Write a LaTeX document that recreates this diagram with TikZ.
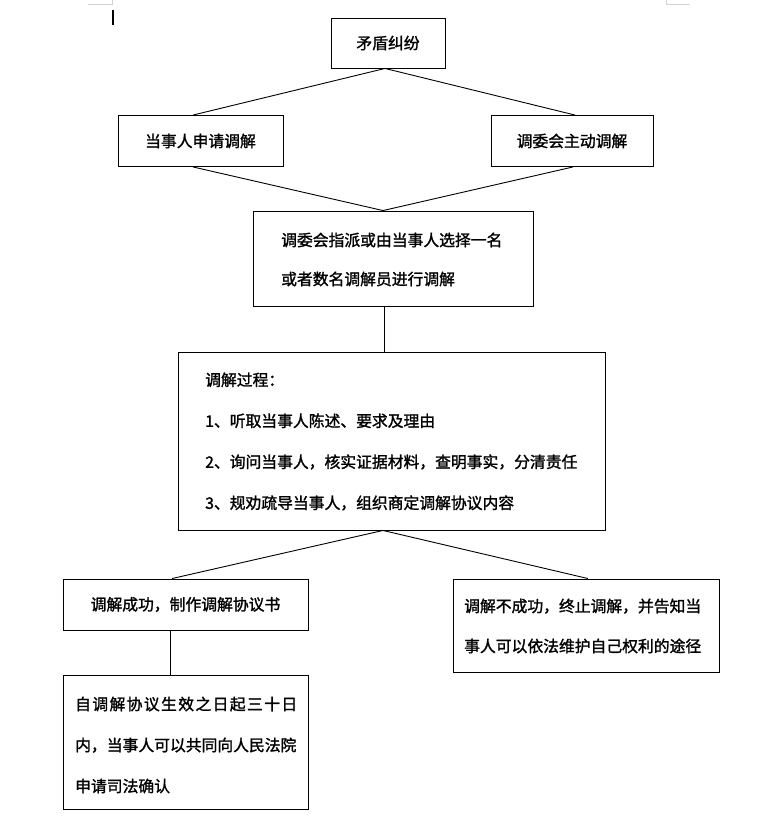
\documentclass[tikz,border=0pt]{standalone}
\usepackage{fontspec}
\newfontfamily\cjk[FakeBold=1.5]{Noto Sans CJK SC}
\begin{document}
\begin{tikzpicture}[x=1pt,y=-1pt,
  box/.style={draw, line width=0.9pt, inner sep=0pt},
  txt/.style={font=\cjk\fontsize{15.8}{40}\selectfont, inner sep=0pt},
  lines/.style={txt, align=left, anchor=west},
  conn/.style={line width=0.9pt}]
\useasboundingbox (0,0) rectangle (781,833);
% page marks and cursor
\draw[gray!35, line width=0.8pt] (88,4) -- (112,4) -- (112,0);
\draw[gray!35, line width=0.8pt] (666,0) -- (666,4) -- (690,4);
\draw[line width=2pt] (113,10) -- (113,25);
% boxes
\node[box, txt, minimum width=114pt, minimum height=50pt] (b1) at (388,43) {矛盾纠纷};
\node[box, txt, minimum width=165pt, minimum height=51pt] (b2) at (200.5,141) {当事人申请调解};
\node[box, txt, minimum width=162pt, minimum height=51pt] (b3) at (572,141) {调委会主动调解};
\node[box, minimum width=280pt, minimum height=95pt] (b4) at (393,258.5) {};
\node[box, minimum width=427pt, minimum height=178pt] (b5) at (391.5,441) {};
\node[box, txt, minimum width=245pt, minimum height=51pt] (b6) at (185.5,604.5) {调解成功，制作调解协议书};
\node[box, minimum width=266pt, minimum height=93pt] (b7) at (586,625.5) {};
\node[box, minimum width=245pt, minimum height=134pt] (b8) at (185.5,742) {};
% texts
\node[lines, font=\cjk\fontsize{15.8}{39}\selectfont] (t4) at (281,259.5) {调委会指派或由当事人选择一名\\或者数名调解员进行调解};
\node[lines, font=\cjk\fontsize{15.8}{41}\selectfont] (t5) at (205,441.5) {调解过程：\\1、听取当事人陈述、要求及理由\\2、询问当事人，核实证据材料，查明事实，分清责任\\3、规劝疏导当事人，组织商定调解协议内容};
\node[lines] (t7) at (464,626) {调解不成功，终止调解，并告知当\\事人可以依法维护自己权利的途径};
\node[lines, font=\cjk\fontsize{15.8}{41}\selectfont] (t8) at (75,745) {\makebox[222pt][s]{自\hfill 调\hfill 解\hfill 协\hfill 议\hfill 生\hfill 效\hfill 之\hfill 日\hfill 起\hfill 三\hfill 十\hfill 日}\\内，当事人可以共同向人民法院\\申请司法确认};
% connectors
\draw[conn] ([xshift=-3pt]b1.south) -- ([xshift=-7.5pt]b2.north);
\draw[conn] ([xshift=-3pt]b1.south) -- ([xshift=3pt]b3.north);
\draw[conn] ([xshift=-7.5pt]b2.south) -- ([xshift=-10pt]b4.north);
\draw[conn] ([xshift=1pt]b3.south) -- ([xshift=-10pt]b4.north);
\draw[conn] ([xshift=-9pt]b4.south) -- ([xshift=-7.5pt]b5.north);
\draw[conn] ([xshift=-8.5pt]b5.south) -- ([xshift=-13.5pt]b6.north);
\draw[conn] ([xshift=-8.5pt]b5.south) -- ([xshift=2pt]b7.north);
\draw[conn] ([xshift=-15.5pt]b6.south) -- ([xshift=-15.5pt]b8.north);
\end{tikzpicture}
\end{document}
